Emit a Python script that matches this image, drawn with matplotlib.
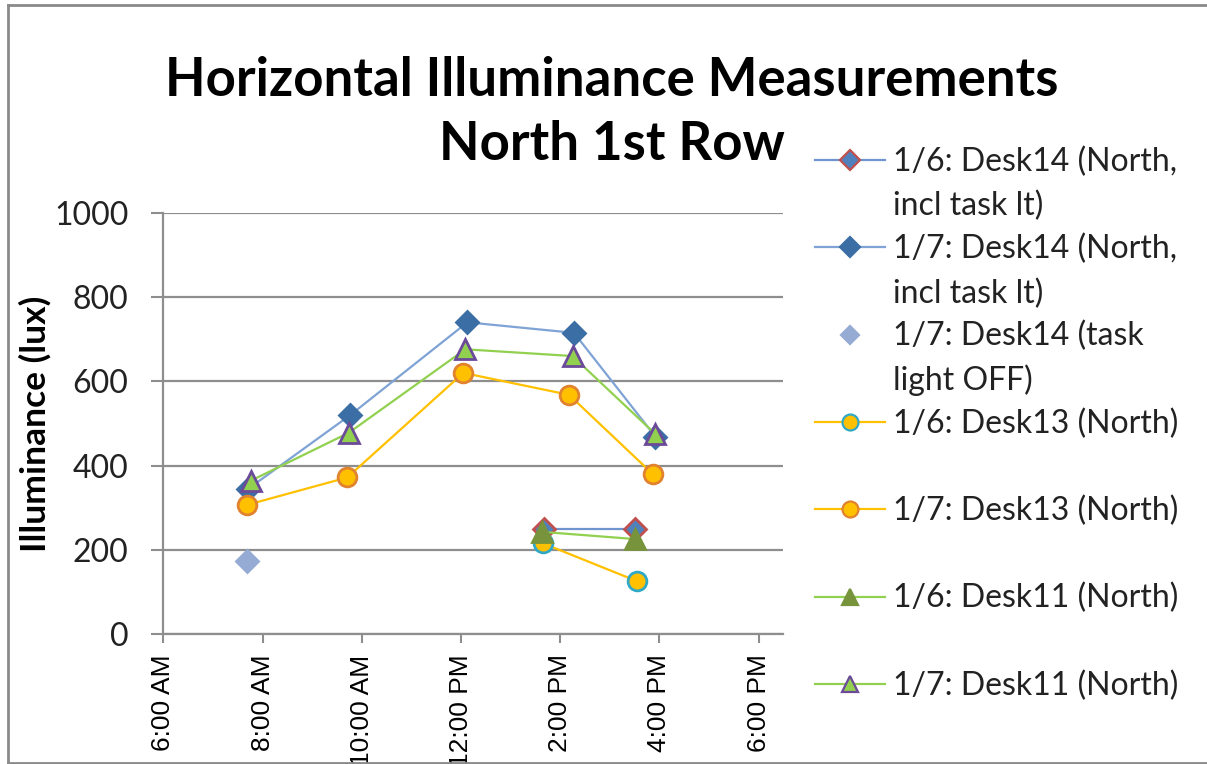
import matplotlib
matplotlib.use("Agg")
import matplotlib.pyplot as plt
from matplotlib.lines import Line2D

# horas do dia (decimal) e iluminancia (lux)
t_0106_desk14 = [13.68, 15.50]
v_0106_desk14 = [250, 250]
t_0107_desk14 = [7.70, 9.77, 12.13, 14.28, 15.92]
v_0107_desk14 = [344, 520, 740, 715, 469]
t_0107_desk14_off = [7.69]
v_0107_desk14_off = [175]
t_0106_desk13 = [13.65, 15.55]
v_0106_desk13 = [216, 126]
t_0107_desk13 = [7.69, 9.71, 12.05, 14.18, 15.87]
v_0107_desk13 = [307, 372, 620, 568, 380]
t_0106_desk11 = [13.63, 15.50]
v_0106_desk11 = [243, 226]
t_0107_desk11 = [7.76, 9.74, 12.09, 14.25, 15.92]
v_0107_desk11 = [364, 478, 676, 660, 475]

legend_labels = [
    "1/6: Desk14 (North,\nincl task lt)",
    "1/7: Desk14 (North,\nincl task lt)",
    "1/7: Desk14 (task\nlight OFF)",
    "1/6: Desk13 (North)",
    "1/7: Desk13 (North)",
    "1/6: Desk11 (North)",
    "1/7: Desk11 (North)",
]
x_ticks = [6, 8, 10, 12, 14, 16, 18]
x_tick_labels = ["6:00 AM", "8:00 AM", "10:00 AM", "12:00 PM", "2:00 PM", "4:00 PM", "6:00 PM"]
y_ticks = [0, 200, 400, 600, 800, 1000]

W, H = 1207, 764
fig = plt.figure(figsize=(W / 100, H / 100), dpi=100)
ax = fig.add_axes([163.3 / W, 1 - 634.3 / H, 620 / W, 421.6 / H])

# estilos: (linha, marcador, tamanho, preenchimento, borda, com linha?)
estilos = [
    ("#6F95CF", "D", 11.5, "#4F81BD", "#C0504D", True),
    ("#7FA3D5", "D", 11.5, "#3A6EA5", "#3A6EA5", True),
    ("#95ABD3", "D", 11, "#95ABD3", "#95ABD3", False),
    ("#FFC000", "o", 13.5, "#FFC000", "#31A9C6", True),
    ("#FFC000", "o", 13.5, "#FFC000", "#E0822F", True),
    ("#92D050", "^", 14, "#77933C", "#77933C", True),
    ("#92D050", "^", 14, "#92D050", "#6C4A9A", True),
]
series = [
    (t_0106_desk14, v_0106_desk14),
    (t_0107_desk14, v_0107_desk14),
    (t_0107_desk14_off, v_0107_desk14_off),
    (t_0106_desk13, v_0106_desk13),
    (t_0107_desk13, v_0107_desk13),
    (t_0106_desk11, v_0106_desk11),
    (t_0107_desk11, v_0107_desk11),
]

for i, ((t, v), (lc, mk, ms, fc, ec, temlinha)) in enumerate(zip(series, estilos)):
    ax.plot(t, v, color=lc, lw=1.6 if temlinha else 0, marker=mk, markersize=ms,
            markerfacecolor=fc, markeredgecolor=ec, markeredgewidth=2, zorder=3 + i,
            clip_on=False)

ax.set_xlim(6, 18.5)
ax.set_ylim(0, 1000)
ax.set_xticks(x_ticks)
ax.set_xticklabels(x_tick_labels, rotation=90, family="Liberation Sans", fontsize=19,
                   va="top", ha="center")
ax.set_yticks(y_ticks)
ax.set_yticklabels([str(y) for y in y_ticks], family="Lato", fontsize=23, color="#222222")
ax.tick_params(axis="y", length=9, width=1.5, color="#8E8E8E", pad=16)
ax.tick_params(axis="x", length=6.5, width=1.5, color="#8E8E8E", pad=8)
ax.grid(axis="y", color="#8E8E8E", lw=1.6)
ax.set_axisbelow(True)
for s in ["top", "right"]:
    ax.spines[s].set_visible(False)
for s in ["left", "bottom"]:
    ax.spines[s].set_color("#8E8E8E")
    ax.spines[s].set_linewidth(1.6)

ax.set_ylabel("Illuminance (lux)", family="Lato", fontweight="bold", fontsize=25.5)
ax.yaxis.set_label_coords((52 - 163.3) / 620, 0.5)

fig.text(612 / W, 1 - 96 / H, "Horizontal Illuminance Measurements", ha="center",
         va="baseline", family="Lato", fontweight="bold", fontsize=38)
fig.text(612 / W, 1 - 160 / H, "North 1st Row", ha="center", va="baseline",
         family="Lato", fontweight="bold", fontsize=38)

# legenda desenhada a mao (marcador alinhado com a primeira linha)
for i, (lab, (lc, mk, ms, fc, ec, temlinha)) in enumerate(zip(legend_labels, estilos)):
    yc = 160 + 87.3 * i
    if temlinha:
        fig.add_artist(Line2D([815 / W, 885 / W], [1 - yc / H] * 2, color=lc, lw=1.6))
    fig.add_artist(Line2D([850 / W], [1 - yc / H], marker=mk, markersize=ms * 0.85,
                          markerfacecolor=fc, markeredgecolor=ec, markeredgewidth=1.6,
                          lw=0))
    for k, linha in enumerate(lab.split("\n")):
        fig.text(893 / W, 1 - (yc + 11 + 44.5 * k) / H, linha, ha="left", va="baseline",
                 family="Lato", fontsize=23, color="#222222")

# moldura do grafico
borda = dict(color="#8A8A8A", lw=2)
fig.add_artist(Line2D([8 / W, 1], [1 - 5 / H] * 2, **borda))
fig.add_artist(Line2D([8 / W] * 2, [1 - 5 / H, 0], **borda))
fig.add_artist(Line2D([8 / W, 1], [1 - 763 / H] * 2, **borda))

fig.savefig("out.png", dpi=100)
